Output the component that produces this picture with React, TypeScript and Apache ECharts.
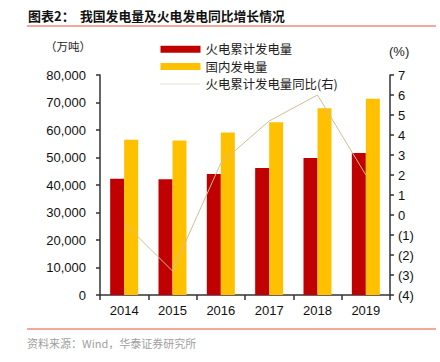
import React, { useEffect, useRef } from "react";
import * as echarts from "echarts";

const years = ["2014", "2015", "2016", "2017", "2018", "2019"];
const thermalGen = [42300, 42100, 44000, 46150, 49800, 51650];
const totalGen = [56500, 56200, 59100, 62800, 67900, 71400];
const thermalYoY = [-0.4, -2.8, 2.6, 4.7, 6.0, 2.0];

const CJK = '"Noto Sans CJK SC", "Noto Sans", sans-serif';
const NUM = '"Liberation Sans", Arial, sans-serif';

export default function App() {
  const ref = useRef<HTMLDivElement>(null);
  useEffect(() => {
    if (!ref.current) return;
    const chart = echarts.init(ref.current, null, { renderer: "svg" });
    chart.setOption({
      animation: false,
      backgroundColor: "#fff",
      grid: { left: 100, right: 50, top: 75, bottom: 67 },
      legend: {
        orient: "vertical",
        left: 155,
        top: 38,
        itemWidth: 40,
        itemHeight: 7,
        itemGap: 5,
        textStyle: { fontFamily: CJK, fontSize: 12.4, color: "#222" },
        data: [
          { name: "火电累计发电量", icon: "rect" },
          { name: "国内发电量", icon: "rect" },
          {
            name: "火电累计发电量同比(右)",
            itemStyle: { opacity: 0 },
            lineStyle: { type: "dotted", width: 1, color: "#D2BE94" },
          },
        ],
      },
      xAxis: {
        type: "category",
        data: years,
        axisLine: { lineStyle: { color: "#333", width: 1.5 } },
        axisTick: { show: true, length: 5, lineStyle: { color: "#333", width: 1.5 } },
        axisLabel: { fontFamily: NUM, fontSize: 13, color: "#111", margin: 9 },
      },
      yAxis: [
        {
          type: "value",
          min: 0,
          max: 80000,
          interval: 10000,
          splitLine: { show: false },
          axisLine: { show: true, lineStyle: { color: "#333", width: 1.5 } },
          axisTick: { show: true, length: 4, lineStyle: { color: "#333", width: 1.5 } },
          axisLabel: {
            fontFamily: NUM,
            fontSize: 13,
            color: "#111",
            margin: 14,
            formatter: (v: number) => v.toLocaleString("en-US"),
          },
        },
        {
          type: "value",
          min: -4,
          max: 7,
          interval: 1,
          splitLine: { show: false },
          axisLine: { show: true, lineStyle: { color: "#333", width: 1.5 } },
          axisTick: { show: true, length: 4, lineStyle: { color: "#333", width: 1.5 } },
          axisLabel: {
            fontFamily: NUM,
            fontSize: 13,
            color: "#111",
            margin: 8,
            formatter: (v: number) => (v < 0 ? `(${-v})` : `${v}`),
          },
        },
      ],
      series: [
        {
          name: "火电累计发电量",
          type: "bar",
          data: thermalGen,
          barWidth: 14,
          barGap: "0%",
          itemStyle: { color: "#C00000" },
        },
        {
          name: "国内发电量",
          type: "bar",
          data: totalGen,
          barWidth: 14,
          itemStyle: { color: "#FFC000" },
        },
        {
          name: "火电累计发电量同比(右)",
          type: "line",
          yAxisIndex: 1,
          data: thermalYoY,
          symbol: "none",
          lineStyle: { color: "#D2BE94", width: 1 },
          itemStyle: { color: "#D2BE94" },
        },
      ],
      graphic: [
        {
          type: "text",
          left: 28,
          top: 9,
          style: {
            text: "图表2：",
            font: `bold 13px ${CJK}`,
            fill: "#111",
          },
        },
        {
          type: "text",
          left: 80,
          top: 9,
          style: {
            text: "我国发电量及火电发电同比增长情况",
            font: `bold 12.8px ${CJK}`,
            fill: "#111",
          },
        },
        {
          type: "line",
          shape: { x1: 27, y1: 26, x2: 436, y2: 26 },
          style: { stroke: "#E8533A", lineWidth: 1 },
        },
        {
          type: "text",
          left: 45,
          top: 40,
          style: { text: "（万吨）", font: `11.5px ${CJK}`, fill: "#222" },
        },
        {
          type: "text",
          left: 389,
          top: 45,
          style: { text: "(%)", font: `13px ${NUM}`, fill: "#222" },
        },
        {
          type: "line",
          shape: { x1: 27, y1: 329, x2: 436, y2: 329 },
          style: { stroke: "#E8533A", lineWidth: 1 },
        },
        {
          type: "text",
          left: 27,
          top: 337,
          style: {
            text: "资料来源：Wind，华泰证券研究所",
            font: `11px ${CJK}`,
            fill: "#A0A0A0",
          },
        },
      ],
    });
    return () => chart.dispose();
  }, []);
  return (
    <div
      ref={ref}
      style={{ position: "fixed", left: 0, top: 0, width: 440, height: 362 }}
    />
  );
}
